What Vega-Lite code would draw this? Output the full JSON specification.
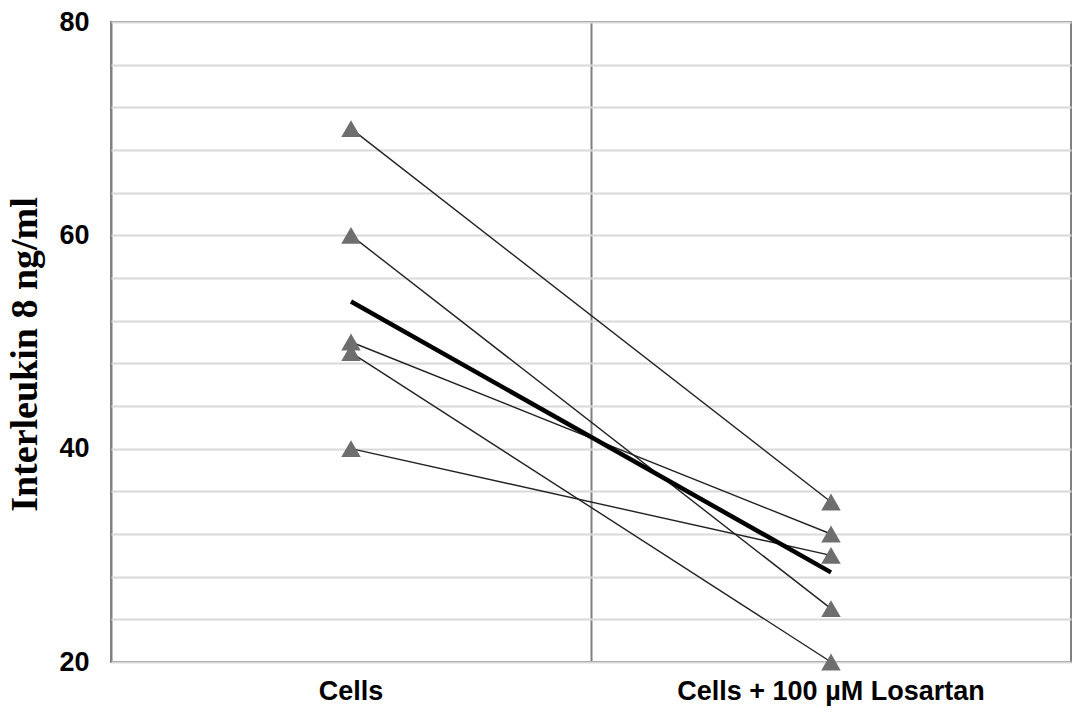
{
  "$schema": "https://vega.github.io/schema/vega-lite/v6.json",
  "width": 960,
  "height": 640,
  "autosize": "none",
  "padding": {"left": 111, "top": 22, "right": 16, "bottom": 60},
  "background": "white",
  "config": {
    "view": {"stroke": "#808080", "strokeWidth": 2}
  },
  "data": {
    "values": [
      {"subject": "A", "group": "Cells", "value": 70},
      {"subject": "A", "group": "Cells + 100 µM Losartan", "value": 35},
      {"subject": "B", "group": "Cells", "value": 60},
      {"subject": "B", "group": "Cells + 100 µM Losartan", "value": 25},
      {"subject": "C", "group": "Cells", "value": 50},
      {"subject": "C", "group": "Cells + 100 µM Losartan", "value": 32},
      {"subject": "D", "group": "Cells", "value": 49},
      {"subject": "D", "group": "Cells + 100 µM Losartan", "value": 20},
      {"subject": "E", "group": "Cells", "value": 40},
      {"subject": "E", "group": "Cells + 100 µM Losartan", "value": 30},
      {"subject": "Mean", "group": "Cells", "value": 53.8},
      {"subject": "Mean", "group": "Cells + 100 µM Losartan", "value": 28.4}
    ]
  },
  "encoding": {
    "x": {
      "field": "group",
      "type": "nominal",
      "sort": ["Cells", "Cells + 100 µM Losartan"],
      "scale": {"type": "band", "paddingInner": 0, "paddingOuter": 0},
      "axis": {
        "title": null,
        "labelAngle": 0,
        "labelFont": "Liberation Sans",
        "labelFontWeight": "bold",
        "labelFontSize": 27,
        "labelColor": "#000000",
        "labelPadding": 16,
        "labelLimit": 0,
        "ticks": false,
        "domain": false,
        "grid": true,
        "bandPosition": 0,
        "gridColor": "#808080",
        "gridWidth": 2
      }
    },
    "y": {
      "field": "value",
      "type": "quantitative",
      "scale": {"domain": [20, 80], "nice": false, "zero": false},
      "axis": {
        "title": "Interleukin 8 ng/ml",
        "titleFont": "Liberation Serif",
        "titleFontWeight": "bold",
        "titleFontSize": 38,
        "titleColor": "#000000",
        "titlePadding": 14,
        "titleY": 332,
        "values": [20, 24, 28, 32, 36, 40, 44, 48, 52, 56, 60, 64, 68, 72, 76, 80],
        "labelExpr": "datum.value % 20 === 0 ? datum.label : ''",
        "labelFont": "Liberation Sans",
        "labelFontWeight": "bold",
        "labelFontSize": 27,
        "labelColor": "#000000",
        "labelPadding": 22,
        "ticks": false,
        "domain": false,
        "grid": true,
        "gridColor": "#d9d9d9",
        "gridWidth": 2
      }
    }
  },
  "layer": [
    {
      "transform": [{"filter": "datum.subject !== 'Mean'"}],
      "mark": {"type": "line", "color": "#222222", "strokeWidth": 1.4},
      "encoding": {"detail": {"field": "subject"}}
    },
    {
      "transform": [{"filter": "datum.subject === 'Mean'"}],
      "mark": {"type": "line", "color": "#000000", "strokeWidth": 4.5},
      "encoding": {"detail": {"field": "subject"}}
    },
    {
      "transform": [{"filter": "datum.subject !== 'Mean'"}],
      "mark": {"type": "point", "shape": "triangle-up", "filled": true, "color": "#6e6e6e", "opacity": 1, "size": 380},
      "encoding": {}
    }
  ]
}
